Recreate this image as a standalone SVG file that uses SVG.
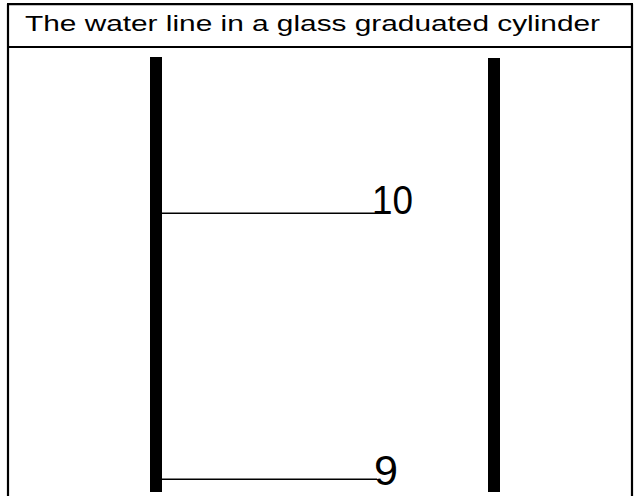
<svg xmlns="http://www.w3.org/2000/svg" width="634" height="496" viewBox="0 0 634 496">
<style>
.border{stroke:#000;stroke-width:2.2;fill:none}
.bar{fill:#000}
.mark{stroke:#000;stroke-width:1.6}
.t{font-family:"Comic Sans MS","Liberation Sans",sans-serif;fill:#000}
</style>
<rect width="634" height="496" fill="#fff"/>
<g id="frame">
<line class="border" x1="8" y1="4" x2="8" y2="496"/>
<line class="border" x1="632" y1="4" x2="632" y2="496"/>
<line class="border" x1="7" y1="4.2" x2="633" y2="4.2"/>
<line class="border" x1="7" y1="47" x2="633" y2="47"/>
</g>
<g id="title">
<text class="t" x="25" y="31" font-size="22" textLength="575" lengthAdjust="spacingAndGlyphs">The water line in a glass graduated cylinder</text>
</g>
<g id="cylinder">
<rect class="bar" x="150" y="57" width="12" height="435"/>
<rect class="bar" x="488" y="58" width="12" height="434"/>
</g>
<g id="connectors">
<line class="mark" x1="162" y1="213.3" x2="377" y2="213.3"/>
<line class="mark" x1="162" y1="479.3" x2="377" y2="479.3"/>
</g>
<g id="label10">
<text class="t" x="372" y="214" font-size="41" textLength="41" lengthAdjust="spacingAndGlyphs">10</text>
</g>
<g id="label9">
<text class="t" x="374" y="484.5" font-size="42" textLength="24" lengthAdjust="spacingAndGlyphs">9</text>
</g>
</svg>
